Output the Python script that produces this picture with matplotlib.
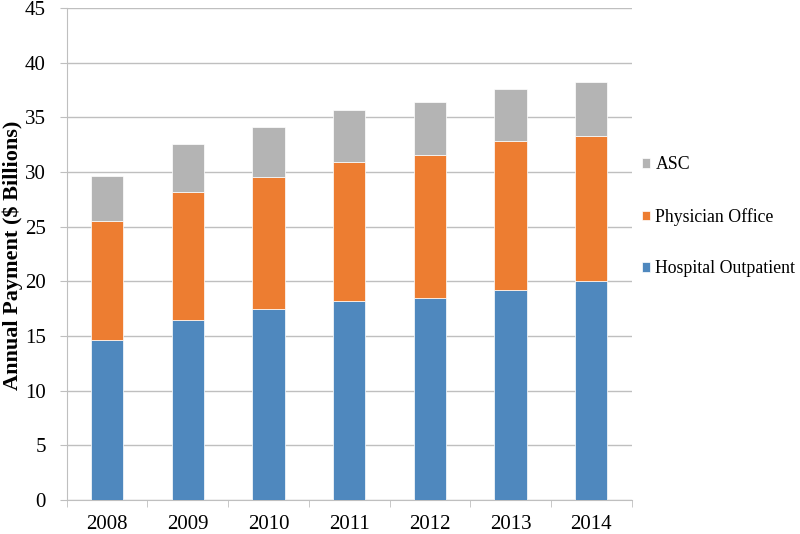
import matplotlib
matplotlib.use("Agg")
import matplotlib.pyplot as plt
import numpy as np

years = ["2008", "2009", "2010", "2011", "2012", "2013", "2014"]
hospital = [14.6, 16.5, 17.45, 18.2, 18.45, 19.2, 20.0]
physician = [10.9, 11.7, 12.1, 12.7, 13.15, 13.6, 13.3]
asc = [4.1, 4.4, 4.55, 4.75, 4.8, 4.8, 4.9]

plt.rcParams["font.family"] = ["Liberation Serif", "DejaVu Serif"]

fig = plt.figure(figsize=(8, 5.34), dpi=100)
ax = fig.add_axes([0.0834, 0.0637, 0.7062, 0.9213])

x = np.arange(len(years))
w = 0.4
grid_c = "#BFBFBF"

b1 = ax.bar(x, hospital, w, color="#4F88BE", edgecolor="white", linewidth=0.5,
            label="Hospital Outpatient", zorder=3)
bottom2 = np.array(hospital)
b2 = ax.bar(x, physician, w, bottom=bottom2, color="#ED7D31", edgecolor="white",
            linewidth=0.5, label="Physician Office", zorder=3)
bottom3 = bottom2 + np.array(physician)
b3 = ax.bar(x, asc, w, bottom=bottom3, color="#B4B4B4", edgecolor="white",
            linewidth=0.5, label="ASC", zorder=3)

ax.set_xlim(-0.5, len(years) - 0.5)
ax.set_ylim(0, 45)
ax.set_yticks(range(0, 46, 5))
ax.yaxis.grid(True, color=grid_c, linewidth=1, zorder=0)

# category labels centred, ticks on the boundaries
ax.set_xticks(x)
ax.set_xticklabels(years)
ax.set_xticks(np.arange(-0.5, len(years)), minor=True)
ax.tick_params(axis="x", which="major", length=0, pad=11, labelsize=15)
ax.tick_params(axis="x", which="minor", length=5, color=grid_c, direction="out")
ax.tick_params(axis="y", length=5, color=grid_c, labelsize=15, pad=10)

for s in ["top", "right"]:
    ax.spines[s].set_visible(False)
for s in ["left", "bottom"]:
    ax.spines[s].set_color(grid_c)

fig.text(0.003, 0.522, "Annual Payment ($ Billions)", rotation=90, ha="left",
         va="center", fontsize=16, fontweight="bold")

fig.legend(handles=[b3, b2, b1], loc="center left", bbox_to_anchor=(0.8025, 0.594),
           frameon=False, fontsize=12.8, labelspacing=1.95, handlelength=0.45,
           handleheight=0.45, handletextpad=0.3, borderpad=0, borderaxespad=0)

fig.savefig("out.png", dpi=100)
